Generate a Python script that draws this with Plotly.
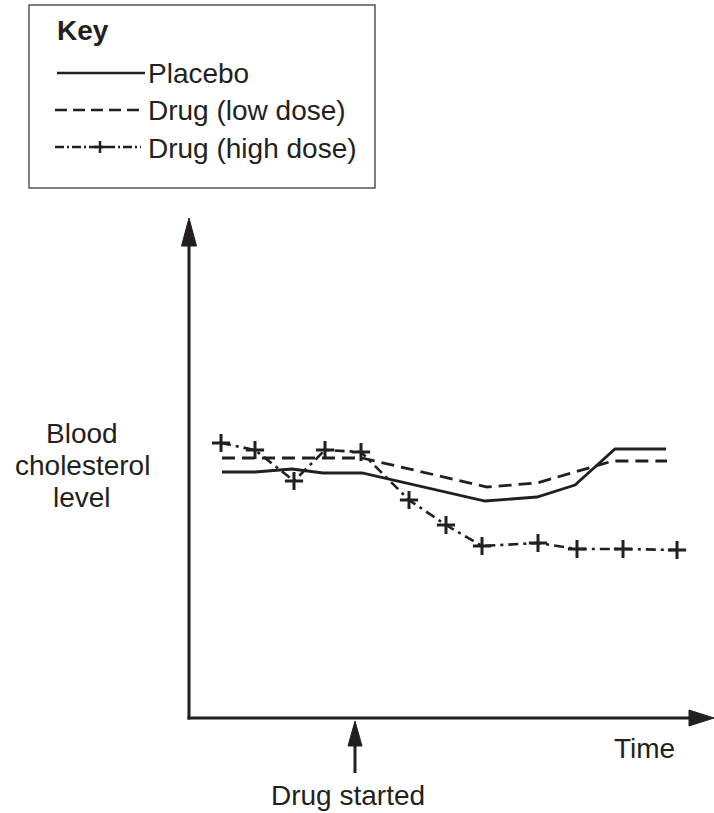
import plotly.graph_objects as go

# ---- data (arbitrary time / level units) ----
high_x = [3.2, 6.6, 10.5, 13.6, 17.2, 22.0, 25.7, 29.3, 34.9, 38.8, 43.4, 48.8]
high_y = [27.5, 26.8, 23.7, 26.8, 26.6, 21.8, 19.3, 17.2, 17.5, 16.9, 16.9, 16.8]

placebo_x = [3.3, 6.6, 10.3, 13.4, 17.3, 29.6, 34.8, 38.6, 42.6, 47.7]
placebo_y = [24.6, 24.6, 24.9, 24.5, 24.5, 21.7, 22.1, 23.3, 26.9, 26.9]

low_x = [3.3, 17.3, 29.8, 34.8, 42.4, 47.8]
low_y = [26.0, 26.0, 23.1, 23.5, 25.7, 25.7]

series_names = ["Placebo", "Drug (low dose)", "Drug (high dose)"]
x_label = "Time"
y_label_lines = ["Blood", "cholesterol", "level"]
event_label = "Drug started"
key_title = "Key"

# ---- layout geometry (pixels) ----
W, H = 714, 813
L, R, T, B = 189, 713, 218, 718

INK = "#231f20"
FONT = "Liberation Sans, Arial, Helvetica, sans-serif"
FS = 28


def px(x):
    return (x - L) / (R - L)


def py(y):
    return (B - y) / (B - T)


fig = go.Figure()

fig.add_trace(go.Scatter(x=placebo_x, y=placebo_y, mode="lines",
                         line=dict(color=INK, width=2.8), name=series_names[0]))
fig.add_trace(go.Scatter(x=low_x, y=low_y, mode="lines",
                         line=dict(color=INK, width=2.8, dash="13px,7px"), name=series_names[1]))
fig.add_trace(go.Scatter(x=high_x, y=high_y, mode="lines+markers",
                         line=dict(color=INK, width=2.6, dash="10px,5px,3px,5px"),
                         marker=dict(symbol="cross-thin", size=13, line=dict(color=INK, width=3)),
                         name=series_names[2]))

shapes = []


def pline(x0, y0, x1, y1, w=3, dash=None, color=INK):
    d = dict(type="line", xref="paper", yref="paper", x0=px(x0), y0=py(y0), x1=px(x1), y1=py(y1),
             line=dict(color=color, width=w), layer="above")
    if dash:
        d["line"]["dash"] = dash
    shapes.append(d)


def tri(pts):
    path = "M " + " L ".join(f"{px(a)},{py(b)}" for a, b in pts) + " Z"
    shapes.append(dict(type="path", xref="paper", yref="paper", path=path,
                       fillcolor=INK, line=dict(color=INK, width=1), layer="above"))


# axes
pline(L, B + 1.5, L, 240, w=3)
pline(L - 1.5, B, 695, B, w=3)
tri([(L, 218), (L - 7.5, 246), (L + 7.5, 246)])
tri([(714, B), (689, B - 8), (689, B + 8)])

# drug started arrow
pline(355, 773, 355, 740, w=3)
tri([(355, 721), (348, 746), (362, 746)])

# key box
shapes.append(dict(type="rect", xref="paper", yref="paper", x0=px(29), y0=py(5), x1=px(375), y1=py(188),
                   line=dict(color="#555555", width=1.5), fillcolor="rgba(0,0,0,0)"))
pline(57, 73, 145, 73, w=2.5)
pline(55, 110, 139, 110, w=2.5, dash="12px,6px")
pline(55, 147, 141, 147, w=2.5, dash="9px,3px,2px,3px")
# plus in the key sample
pline(100, 141, 100, 153, w=2.5)
pline(94, 147, 106, 147, w=2.5)

annotations = []


def label(text, x, y, anchor="left", bold=False):
    annotations.append(dict(text=f"<b>{text}</b>" if bold else text, xref="paper", yref="paper",
                            x=px(x), y=py(y), xanchor=anchor, yanchor="middle", showarrow=False,
                            font=dict(family=FONT, size=FS, color=INK)))


label(key_title, 55, 31, bold=True)
label(series_names[0], 146, 74)
label(series_names[1], 146, 110)
label(series_names[2], 146, 148)
label(x_label, 644, 748, anchor="center")
label(event_label, 348, 795, anchor="center")
for t, yy in zip(y_label_lines, [433, 465, 497]):
    label(t, 82, yy, anchor="center")

fig.update_layout(
    width=W, height=H,
    margin=dict(l=L, r=W - R, t=T, b=H - B, pad=0),
    paper_bgcolor="white", plot_bgcolor="white",
    showlegend=False,
    xaxis=dict(range=[0, (R - L) / 10], visible=False, fixedrange=True),
    yaxis=dict(range=[0, (B - T) / 10], visible=False, fixedrange=True),
    shapes=shapes, annotations=annotations,
)

fig.write_html("out.html", config={"displayModeBar": False},
               post_script="document.body.style.margin='0';document.body.style.overflow='hidden';")
